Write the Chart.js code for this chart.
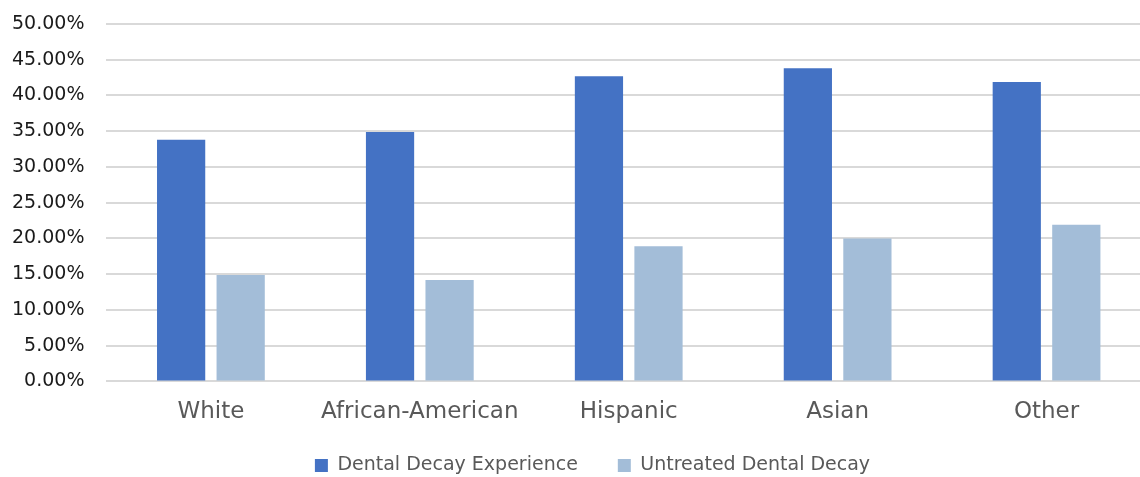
<!DOCTYPE html>
<html>
<head>
<meta charset="utf-8">
<script src="https://cdn.jsdelivr.net/npm/chart.js@4/dist/chart.umd.min.js"></script>
<style>
  html, body { margin: 0; padding: 0; background: #fff; overflow: hidden; }
  #wrap { width: 1184px; height: 477px; }
</style>
</head>
<body>
<div id="wrap"><canvas id="decayChart" width="1184" height="477"></canvas></div>
<script>
const groups = ['White', 'African-American', 'Hispanic', 'Asian', 'Other'];
const decayExperience = [33.8, 34.9, 42.7, 43.8, 41.9];
const untreatedDecay = [14.9, 14.2, 18.9, 20.0, 21.9];
const seriesNames = ['Dental Decay Experience', 'Untreated Dental Decay'];

// paint the canvas white, move the legend up and slightly right
const whiteBg = {
    id: 'whiteBg',
    afterLayout(chart) {
        const lg = chart.legend;
        lg.left += 22;
        lg.right += 22;
        lg.top -= 27;
        lg.bottom -= 27;
    },
    beforeDraw(chart) {
        const c = chart.ctx;
        c.save();
        c.fillStyle = '#ffffff';
        c.fillRect(0, 0, chart.width, chart.height);
        c.restore();
    }
};

const ctx = document.getElementById('decayChart').getContext('2d');
new Chart(ctx, {
    type: 'bar',
    data: {
        labels: groups,
        datasets: [{
            label: seriesNames[0],
            data: decayExperience,
            backgroundColor: '#4472C4',
            categoryPercentage: 0.57,
            barPercentage: 0.81
        }, {
            label: seriesNames[1],
            data: untreatedDecay,
            backgroundColor: '#A3BDD8',
            categoryPercentage: 0.57,
            barPercentage: 0.81
        }]
    },
    options: {
        responsive: false,
        animation: false,
        layout: {
            padding: { left: -10, right: 33, top: 24, bottom: -35 }
        },
        scales: {
            x: {
                grid: { display: false, drawTicks: false },
                border: { display: false },
                ticks: {
                    color: '#595959',
                    padding: 17,
                    font: { family: 'DejaVu Sans', size: 23 }
                }
            },
            y: {
                min: 0,
                max: 50,
                grid: { color: '#D9D9D9', lineWidth: 2, drawTicks: false },
                border: { display: false },
                ticks: {
                    stepSize: 5,
                    color: '#1a1a1a',
                    padding: 22,
                    font: { family: 'DejaVu Sans', size: 19 },
                    callback: v => v.toFixed(2) + '%'
                },
                afterFit: scale => {
                    scale.paddingTop = 0;
                    scale.paddingBottom = 0;
                }
            }
        },
        plugins: {
            legend: {
                position: 'bottom',
                labels: {
                    color: '#595959',
                    boxWidth: 13,
                    boxHeight: 13,
                    padding: 40,
                    font: { family: 'DejaVu Sans', size: 19 }
                }
            },
            tooltip: { enabled: false }
        }
    },
    plugins: [whiteBg]
});
</script>
</body>
</html>
